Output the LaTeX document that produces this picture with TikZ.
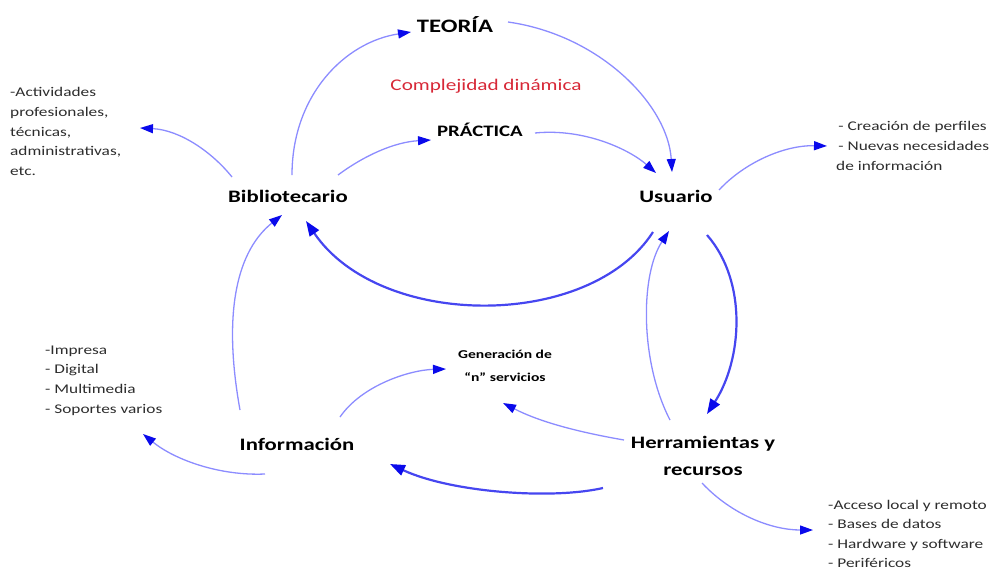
\documentclass[tikz,border=0pt]{standalone}
\usepackage{fontspec}
\setmainfont{Carlito}[FakeStretch=1.3]
\usetikzlibrary{arrows.meta}
\definecolor{lineblue}{RGB}{140,140,255}
\definecolor{thickblue}{RGB}{70,70,240}
\definecolor{headblue}{RGB}{10,10,235}
\definecolor{redtxt}{RGB}{215,40,55}
\definecolor{txtgray}{RGB}{45,45,45}
\begin{document}
\begin{tikzpicture}[x=1pt,y=-1pt,
  conn/.style={draw=lineblue,line width=1.3pt,-{Triangle[length=13pt,width=9pt,fill=headblue,color=headblue]}},
  thickconn/.style={draw=thickblue,line width=2.2pt,-{Triangle[length=15pt,width=11pt,fill=headblue,color=headblue]}},
  mainlbl/.style={font=\fontsize{17.5}{20}\selectfont\bfseries,text=black,inner sep=1pt},
  sidelbl/.style={font=\fontsize{13.3}{19.6}\selectfont,text=txtgray,align=left,anchor=north west,inner sep=0pt}]
\useasboundingbox (0,0) rectangle (992,571);

% main nodes
\node[mainlbl,font=\fontsize{19}{24}\selectfont\bfseries] (teoria) at (455,25) {TEORÍA};
\node[font=\fontsize{16.3}{18}\selectfont,text=redtxt] (compl) at (486,86) {Complejidad dinámica};
\node[mainlbl,font=\fontsize{16}{18}\selectfont\bfseries] (practica) at (480,130) {PRÁCTICA};
\node[mainlbl] (bib) at (288,196) {Bibliotecario};
\node[mainlbl] (usu) at (676,196) {Usuario};
\node[mainlbl] (info) at (297,444) {Información};
\node[mainlbl,align=center,font=\fontsize{17.5}{27}\selectfont\bfseries] (herr) at (703,456) {Herramientas y\\recursos};
\node[mainlbl,align=center,font=\fontsize{12}{23}\selectfont\bfseries] (gen) at (505,366) {Generación de\\“n” servicios};

% side texts
\node[sidelbl] (actv) at (10,87.5) {-Actividades\\profesionales,\\técnicas,\\administrativas,\\etc.};
\node[sidelbl] (perf) at (836,121.5) {\,- Creación de perfiles\\\,- Nuevas necesidades\\de información};
\node[sidelbl] (impr) at (45,345.5) {-Impresa\\- Digital\\- Multimedia\\- Soportes varios};
\node[sidelbl,font=\fontsize{13.3}{19.3}\selectfont] (acc) at (828,500) {-Acceso local y remoto\\- Bases de datos\\- Hardware y software\\- Periféricos};

% connector end points
\coordinate (b1) at (292,175);
\coordinate (t1) at (411,32);
\coordinate (t2) at (508,22);
\coordinate (u1) at (672,172);
\coordinate (b2) at (338,175);
\coordinate (p1) at (431,140);
\coordinate (p2) at (535,133);
\coordinate (u2) at (656,173);
\coordinate (b3) at (232,177);
\coordinate (a1) at (140,128);
\coordinate (u3) at (719,190);
\coordinate (c1) at (827,146);
\coordinate (u4) at (653,232);
\coordinate (b4) at (306,221);
\coordinate (i1) at (240,410);
\coordinate (b5) at (282,215);
\coordinate (h1) at (670,420);
\coordinate (u5) at (669,231);
\coordinate (u6) at (707,235);
\coordinate (h2) at (707,414);
\coordinate (h3) at (624,440);
\coordinate (g1) at (503,403);
\coordinate (i2) at (340,417);
\coordinate (g2) at (446,369);
\coordinate (i3) at (265,474);
\coordinate (m1) at (143,434);
\coordinate (h4) at (603,488);
\coordinate (i4) at (390,464);
\coordinate (h5) at (702,483);
\coordinate (a2) at (813,530);

% connectors
\draw[conn] (b1) .. controls (292,95) and (345,42) .. (t1);
\draw[conn] (t2) .. controls (600,35) and (668,105) .. (u1);
\draw[conn] (b2) .. controls (365,155) and (395,142) .. (p1);
\draw[conn] (p2) .. controls (585,128) and (630,150) .. (u2);
\draw[conn] (b3) .. controls (212,152) and (180,130) .. (a1);
\draw[conn] (u3) .. controls (745,162) and (785,145) .. (c1);
\draw[thickconn] (u4) .. controls (590,330) and (380,330) .. (b4);
\draw[conn] (i1) .. controls (222,310) and (238,250) .. (b5);
\draw[conn] (h1) .. controls (640,362) and (640,275) .. (u5);
\draw[thickconn] (u6) .. controls (748,282) and (742,360) .. (h2);
\draw[conn] (h3) .. controls (578,432) and (540,422) .. (g1);
\draw[conn] (i2) .. controls (362,385) and (410,370) .. (g2);
\draw[conn] (i3) .. controls (220,476) and (175,460) .. (m1);
\draw[thickconn] (h4) .. controls (550,500) and (450,492) .. (i4);
\draw[conn] (h5) .. controls (732,515) and (772,530) .. (a2);
\end{tikzpicture}
\end{document}
